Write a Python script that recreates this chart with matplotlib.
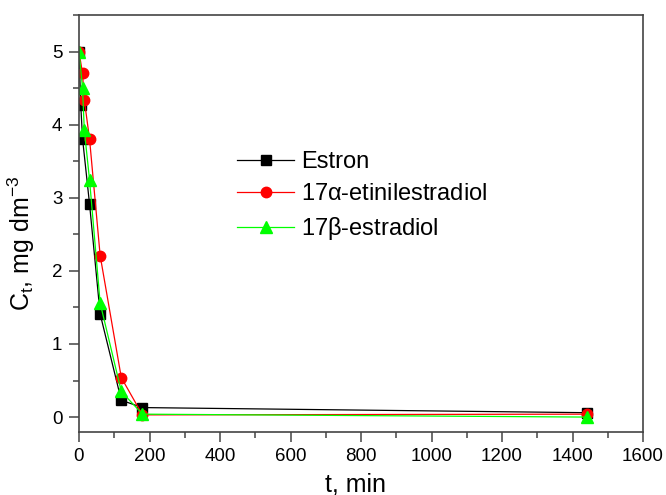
import matplotlib
matplotlib.use('Agg')
import matplotlib.pyplot as plt
from matplotlib.ticker import MultipleLocator

plt.rcParams['font.family'] = ['Liberation Sans', 'DejaVu Sans']
plt.rcParams['mathtext.fontset'] = 'custom'
plt.rcParams['mathtext.rm'] = 'Liberation Sans'
plt.rcParams['mathtext.it'] = 'Liberation Sans'

# time, min
t_estron = [0, 5, 10, 30, 60, 120, 180, 1440]
t_other = [0, 10, 15, 30, 60, 120, 180, 1440]

estron = [5.0, 4.27, 3.81, 2.91, 1.41, 0.23, 0.13, 0.06]
etinilestradiol = [5.0, 4.70, 4.34, 3.80, 2.21, 0.54, 0.03, 0.04]
estradiol = [5.0, 4.50, 3.93, 3.24, 1.56, 0.35, 0.04, 0.0]

labels = ['Estron', r'17$\alpha$-etinilestradiol', r'17$\beta$-estradiol']

fig = plt.figure(figsize=(6.66, 4.95), dpi=100)
ax = fig.add_axes([79 / 666, 1 - 431.7 / 495, 564 / 666, 416.7 / 495])

ax.plot(t_estron, estron, '-s', color='black', lw=0.9, ms=6.5, label=labels[0])
ax.plot(t_other, etinilestradiol, '-o', color='#ff0000', lw=0.9, ms=7.5,
        label=labels[1])
ax.plot(t_other, estradiol, '-^', color='#00ff00', lw=0.9, ms=8, label=labels[2])

ax.set_xlim(0, 1600)
ax.set_ylim(-0.2, 5.5)
ax.xaxis.set_major_locator(MultipleLocator(200))
ax.xaxis.set_minor_locator(MultipleLocator(100))
ax.yaxis.set_major_locator(MultipleLocator(1))
ax.yaxis.set_minor_locator(MultipleLocator(0.5))

for s in ax.spines.values():
    s.set_color('#444444')
    s.set_linewidth(1.2)
ax.tick_params(which='major', direction='out', length=7, width=1.1,
               color='#444444', labelsize=13.5, pad=5)
ax.tick_params(which='minor', direction='out', length=4, width=1.1,
               color='#444444')

ax.set_xlabel('t, min', fontsize=18)
ax.xaxis.set_label_coords(0.49, -0.098)
fig.text(21 / 666, 1 - 243 / 495, r'C$_t$, mg dm$^{-3}$', fontsize=18,
         rotation=90, ha='center', va='center')

leg = ax.legend(loc='upper left', bbox_to_anchor=(228 / 666, 1 - 142 / 495),
                bbox_transform=fig.transFigure, frameon=False, fontsize=17,
                numpoints=1, handlelength=2.4, handletextpad=0.3,
                labelspacing=0.42, borderaxespad=0)

fig.savefig('out.png', dpi=100)
